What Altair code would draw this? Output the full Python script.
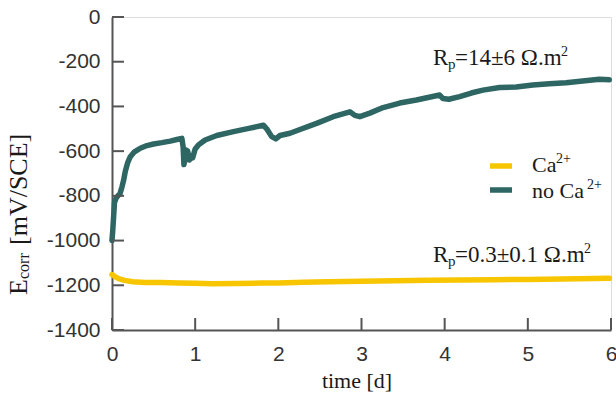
import altair as alt
import pandas as pd

# ---------------- data ----------------
time_noca = [0.000, 0.010, 0.020, 0.030, 0.050, 0.070, 0.096, 0.12, 0.14, 0.16, 0.19, 0.22,
             0.27, 0.34, 0.42, 0.50, 0.60, 0.70, 0.78, 0.84, 0.855, 0.865, 0.875, 0.89, 0.91,
             0.93, 0.95, 0.97, 1.00, 1.04, 1.12, 1.26, 1.46, 1.66, 1.82, 1.86, 1.92, 1.97,
             2.02, 2.14, 2.26, 2.46, 2.66, 2.86, 2.92, 2.98, 3.10, 3.26, 3.46, 3.66, 3.80,
             3.94, 3.98, 4.05, 4.18, 4.32, 4.46, 4.66, 4.86, 5.06, 5.26, 5.46, 5.66, 5.86, 5.98]
ecorr_noca = [-1000, -950, -890, -830, -810, -800, -790, -760, -730, -690, -650, -625,
              -603, -587, -575, -568, -562, -555, -548, -543, -580, -660, -640, -595, -600,
              -640, -620, -630, -590, -572, -550, -530, -513, -497, -484, -500, -535, -545,
              -530, -520, -503, -476, -446, -424, -440, -446, -430, -405, -385, -371, -360,
              -349, -365, -368, -356, -340, -327, -315, -313, -304, -299, -294, -286, -278, -281]

time_ca = [0.00, 0.03, 0.08, 0.15, 0.25, 0.40, 0.60, 0.80, 1.00, 1.20, 1.50, 1.80, 2.00,
           2.30, 2.60, 3.00, 3.40, 3.80, 4.20, 4.60, 5.00, 5.40, 5.80, 5.98]
ecorr_ca = [-1152, -1160, -1170, -1178, -1184, -1187, -1188, -1190, -1191, -1193, -1192,
            -1190, -1190, -1186, -1184, -1182, -1180, -1178, -1176, -1175, -1174, -1172,
            -1170, -1169]

series_names = ["Ca", "no Ca"]
series_colors = ["#F7C600", "#2E6663"]
x_ticks = [0, 1, 2, 3, 4, 5, 6]
y_ticks = [0, -200, -400, -600, -800, -1000, -1200, -1400]

# annotation texts and their anchor (time, value)
rp_noca_text = "=14±6 Ω.m"
rp_ca_text = "=0.3±0.1 Ω.m"
rp_noca_anchor = [3.86, -215]
rp_ca_anchor = [3.86, -1096]

# ---------------- layout ----------------
W, H = 499, 313
SERIF = "Liberation Serif"
SANS = "Liberation Sans"
AX = "#555555"
TXT = "#1a1a1a"

df = pd.DataFrame({
    "t": time_ca + time_noca,
    "E": ecorr_ca + ecorr_noca,
    "series": [series_names[0]] * len(time_ca) + [series_names[1]] * len(time_noca),
})

xs = alt.Scale(domain=[0, 6], nice=False, zero=False)
ys = alt.Scale(domain=[-1400, 0], nice=False, zero=False)
axis_common = dict(ticks=False, grid=False, domainColor=AX, domainWidth=2, labelFlush=False,
                   labelFont=SANS, labelFontSize=21, labelColor="#333333", title=None)
x_enc = alt.X("t:Q", scale=xs, axis=alt.Axis(values=x_ticks, labelPadding=13, **axis_common))
y_enc = alt.Y("E:Q", scale=ys, axis=alt.Axis(
    values=y_ticks, labelPadding=12,
    labelExpr="datum.value < 0 ? '-' + format(abs(datum.value), 'd') : format(datum.value, 'd')",
    **axis_common))

lines = alt.Chart(df).mark_line(strokeWidth=5.5, strokeCap="round", strokeJoin="round").encode(
    x=x_enc, y=y_enc,
    color=alt.Color("series:N", scale=alt.Scale(domain=series_names, range=series_colors), legend=None),
)

yt = alt.Chart(pd.DataFrame({"E": y_ticks})).mark_rule(color=AX, strokeWidth=2).encode(
    y=y_enc, x=alt.value(0), x2=alt.value(12))
xt = alt.Chart(pd.DataFrame({"t": x_ticks})).mark_rule(color=AX, strokeWidth=2).encode(
    x=x_enc, y=alt.value(H - 12), y2=alt.value(H))


def dtext(anchor, s, size, dx=0, dy=0):
    d = pd.DataFrame({"t": [anchor[0]], "E": [anchor[1]], "s": [s]})
    return alt.Chart(d).mark_text(font=SERIF, fontSize=size, color=TXT, align="left",
                                  baseline="alphabetic", dx=dx, dy=dy).encode(
        x=x_enc, y=y_enc, text="s:N")


def ptext(x, y, s, size, angle=0, align="left", font=SERIF):
    d = pd.DataFrame({"s": [s]})
    kw = dict(font=font, fontSize=size, color=TXT, align=align, baseline="alphabetic")
    if angle:
        kw["angle"] = angle
    return alt.Chart(d).mark_text(**kw).encode(x=alt.value(x), y=alt.value(y), text="s:N")


annots = [
    dtext(rp_noca_anchor, "R", 23),
    dtext(rp_noca_anchor, "p", 15, dx=15, dy=4),
    dtext(rp_noca_anchor, rp_noca_text, 23, dx=22),
    dtext(rp_noca_anchor, "2", 14, dx=128, dy=-9),
    dtext(rp_ca_anchor, "R", 23),
    dtext(rp_ca_anchor, "p", 15, dx=15, dy=4),
    dtext(rp_ca_anchor, rp_ca_text, 23, dx=22),
    dtext(rp_ca_anchor, "2", 14, dx=151, dy=-9),
]

# legend
leg = []
for i, (name, col) in enumerate(zip(series_names, series_colors)):
    yy = 149 + 24 * i
    leg.append(alt.Chart(pd.DataFrame({"s": [name]})).mark_rule(color=col, strokeWidth=5.5).encode(
        x=alt.value(378), x2=alt.value(400), y=alt.value(yy)))
leg += [
    ptext(420, 155, "Ca", 22),
    ptext(444, 146, "2+", 14),
    ptext(420, 181, "no Ca", 22),
    ptext(475, 172, "2+", 14),
]

# axis titles
titles = [
    ptext(-85, 278, "E", 26, angle=270),
    ptext(-83, 262, "corr", 16, angle=270),
    ptext(-85, 228, "[mV/SCE]", 26, angle=270),
    ptext(245, 371, "time [d]", 22, align="center"),
]

chart = alt.layer(lines, yt, xt, *annots, *leg, *titles).properties(
    width=W, height=H,
    autosize=alt.AutoSizeParams(type="none"),
    padding={"left": 112, "top": 17, "right": 5, "bottom": 66},
).configure_view(stroke=None).configure(background="white")

chart.save("out.html", embed_options={"renderer": "svg", "actions": False})
